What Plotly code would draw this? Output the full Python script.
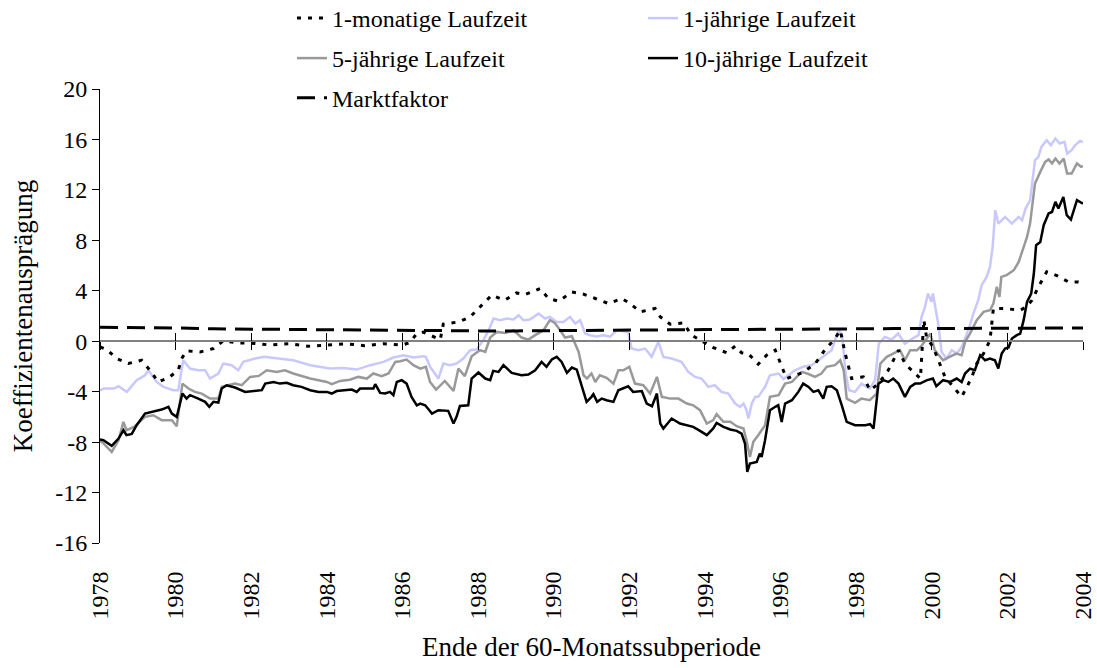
import plotly.graph_objects as go

# ---------------- data ----------------
x_ticks = list(range(1978, 2005, 2))
x_ticktext = [str(v) for v in x_ticks]
y_ticks = list(range(-16, 21, 4))
y_ticktext = [str(v) for v in y_ticks]

# 1-monatige Laufzeit
t_1m = [1978.00, 1978.18, 1978.44, 1978.75, 1979.10, 1979.32, 1979.54, 1979.81, 1980.07, 1980.16,
        1980.29, 1980.65, 1981.00, 1981.26, 1981.66, 1982.10, 1982.50, 1983.00, 1983.50, 1984.00,
        1984.50, 1985.00, 1985.50, 1986.00, 1986.20, 1986.38, 1986.55, 1986.73, 1987.00, 1987.08,
        1987.48, 1987.79, 1988.10, 1988.36, 1988.70, 1989.02, 1989.25, 1989.64, 1989.86, 1990.13,
        1990.48, 1990.79, 1991.10, 1991.45, 1991.80, 1992.02, 1992.29, 1992.68, 1992.82, 1993.08,
        1993.43, 1993.65, 1993.96, 1994.22, 1994.58, 1994.80, 1994.97, 1995.15, 1995.41, 1995.63,
        1995.86, 1996.01, 1996.16, 1996.56, 1996.91, 1997.18, 1997.44, 1997.58, 1997.71, 1997.88,
        1998.19, 1998.37, 1998.59, 1998.85, 1999.12, 1999.30, 1999.70, 1999.79, 1999.86, 2000.04,
        2000.22, 2000.35, 2000.57, 2000.79, 2000.93, 2001.06, 2001.19, 2001.37, 2001.54, 2001.63,
        2001.90, 2002.34, 2002.50, 2002.65, 2002.82, 2003.04, 2003.31, 2003.62, 2003.88, 2004.00]
v_1m = [-0.45, -0.66, -1.37, -1.77, -1.51, -2.30, -3.23, -2.90, -2.30, -1.37,
        -0.77, -0.85, -0.58, 0.02, -0.13, -0.18, -0.30, -0.20, -0.40, -0.30,
        -0.20, -0.35, -0.20, -0.30, -0.10, 0.61, 0.72, 0.48, 0.13, 1.35,
        1.53, 1.93, 2.85, 3.65, 3.25, 3.83, 3.70, 4.18, 3.39, 3.17,
        3.91, 3.73, 3.39, 2.99, 3.39, 2.99, 2.33, 2.60, 1.93, 1.35,
        1.45, 0.48, -0.05, -0.50, -0.92, -0.39, -0.92, -1.00, -1.82, -1.11,
        -0.71, -1.82, -2.96, -2.51, -1.82, -0.66, 0.21, 0.87, -0.98, -2.96,
        -2.83, -3.89, -3.36, -2.30, -0.71, -1.82, -2.96, 1.70, 0.34, -0.50,
        -1.77, -2.83, -3.62, -4.41, -3.62, -2.83, -1.77, -0.98, 0.08, 2.60,
        2.60, 2.46, 2.72, 3.25, 4.31, 5.50, 5.20, 4.70, 4.70, 4.60]

# 1-jährige Laufzeit
t_1y = [1978.00, 1978.10, 1978.36, 1978.49, 1978.71, 1978.97, 1979.19, 1979.28, 1979.50, 1979.68,
        1979.94, 1980.07, 1980.20, 1980.38, 1980.60, 1980.78, 1980.91, 1981.13, 1981.26, 1981.48,
        1981.66, 1981.79, 1982.10, 1982.35, 1982.50, 1982.76, 1983.11, 1983.56, 1984.08, 1984.44,
        1984.79, 1985.15, 1985.50, 1985.76, 1986.03, 1986.29, 1986.55, 1986.62, 1986.73, 1986.95,
        1987.08, 1987.26, 1987.43, 1987.61, 1987.79, 1987.96, 1988.14, 1988.28, 1988.41, 1988.59,
        1988.76, 1988.94, 1989.07, 1989.20, 1989.37, 1989.60, 1989.77, 1989.90, 1990.08, 1990.26,
        1990.43, 1990.57, 1990.70, 1990.83, 1990.96, 1991.14, 1991.31, 1991.49, 1991.67, 1991.97,
        1992.06, 1992.24, 1992.42, 1992.59, 1992.77, 1992.90, 1993.12, 1993.38, 1993.56, 1993.74,
        1993.91, 1994.09, 1994.26, 1994.44, 1994.62, 1994.80, 1994.93, 1995.02, 1995.10, 1995.15,
        1995.24, 1995.33, 1995.41, 1995.59, 1995.72, 1995.95, 1996.08, 1996.21, 1996.38, 1996.60,
        1996.82, 1997.00, 1997.18, 1997.35, 1997.53, 1997.63, 1997.72, 1997.81, 1997.97, 1998.14,
        1998.36, 1998.50, 1998.60, 1998.76, 1998.94, 1999.11, 1999.29, 1999.47, 1999.65, 1999.73,
        1999.82, 1999.90, 1999.99, 2000.03, 2000.17, 2000.26, 2000.39, 2000.53, 2000.66, 2000.79,
        2000.88, 2001.01, 2001.10, 2001.23, 2001.32, 2001.45, 2001.54, 2001.61, 2001.68, 2001.76,
        2001.94, 2002.12, 2002.30, 2002.39, 2002.48, 2002.60, 2002.73, 2002.82, 2002.90, 2003.04,
        2003.15, 2003.27, 2003.38, 2003.51, 2003.58, 2003.70, 2003.79, 2003.92, 2004.00]
v_1y = [-3.90, -3.75, -3.75, -3.57, -4.02, -3.09, -2.70, -2.30, -3.23, -3.62,
        -3.88, -3.88, -1.51, -2.17, -2.30, -2.30, -2.96, -2.56, -1.77, -1.90,
        -2.30, -1.64, -1.37, -1.24, -1.29, -1.37, -1.51, -1.90, -2.17, -2.12,
        -2.25, -1.90, -1.64, -1.29, -1.11, -1.29, -1.19, -1.24, -2.03, -2.96,
        -1.77, -1.90, -1.77, -1.37, -0.71, -0.66, 0.08, 0.87, 1.80, 1.67,
        1.80, 1.72, 2.06, 1.67, 1.72, 2.19, 1.80, 1.93, 1.53, 1.53,
        1.93, 1.40, 1.67, 0.61, 0.48, 0.37, 0.48, 0.37, 0.87, 0.72,
        -0.58, -0.71, -0.58, -1.24, -0.05, -1.24, -1.37, -1.64, -2.43, -2.83,
        -2.96, -3.62, -3.49, -4.02, -4.15, -4.94, -5.20, -4.94, -5.47, -6.13,
        -4.94, -4.41, -4.41, -3.62, -2.70, -2.56, -3.00, -2.70, -2.30, -2.03,
        -1.90, -1.51, -1.11, -0.71, 0.87, 0.48, -2.56, -3.89, -4.02, -3.36,
        -3.75, -3.09, -0.18, 0.34, 0.13, 0.61, -0.20, 0.18, 0.48, 1.93,
        2.72, 3.78, 3.12, 3.78, 1.40, -0.85, -1.37, -0.71, -0.98, -0.45,
        0.21, 1.27, 2.19, 3.25, 4.44, 5.10, 5.89, 7.48, 10.39, 9.33,
        9.86, 9.33, 9.86, 9.60, 10.52, 11.18, 14.35, 14.62, 15.41, 15.94,
        15.54, 16.07, 15.68, 15.81, 14.88, 15.15, 15.54, 15.88, 15.80]

# 5-jährige Laufzeit
t_5y = [1978.00, 1978.09, 1978.31, 1978.49, 1978.62, 1978.70, 1978.90, 1979.19, 1979.41, 1979.63,
        1979.90, 1980.03, 1980.18, 1980.34, 1980.51, 1980.69, 1980.91, 1981.13, 1981.22, 1981.57,
        1981.75, 1981.97, 1982.20, 1982.41, 1982.67, 1982.89, 1983.11, 1983.56, 1984.00, 1984.13,
        1984.35, 1984.61, 1984.83, 1985.06, 1985.23, 1985.45, 1985.63, 1985.81, 1985.94, 1986.11,
        1986.29, 1986.47, 1986.62, 1986.73, 1986.89, 1987.12, 1987.35, 1987.48, 1987.65, 1987.83,
        1988.05, 1988.19, 1988.32, 1988.50, 1988.72, 1988.94, 1989.15, 1989.33, 1989.51, 1989.73,
        1989.90, 1990.03, 1990.17, 1990.30, 1990.48, 1990.66, 1990.79, 1990.88, 1991.00, 1991.10,
        1991.22, 1991.40, 1991.58, 1991.71, 1991.84, 1992.00, 1992.15, 1992.37, 1992.55, 1992.73,
        1992.86, 1993.08, 1993.30, 1993.52, 1993.69, 1993.87, 1994.05, 1994.22, 1994.31, 1994.49,
        1994.67, 1994.84, 1995.02, 1995.10, 1995.19, 1995.28, 1995.41, 1995.59, 1995.72, 1995.95,
        1996.12, 1996.30, 1996.56, 1996.74, 1996.91, 1997.08, 1997.22, 1997.44, 1997.58, 1997.67,
        1997.75, 1997.97, 1998.14, 1998.36, 1998.54, 1998.64, 1998.81, 1998.98, 1999.16, 1999.29,
        1999.43, 1999.61, 1999.74, 1999.87, 1999.96, 2000.08, 2000.30, 2000.47, 2000.65, 2000.79,
        2000.88, 2001.01, 2001.19, 2001.37, 2001.54, 2001.63, 2001.72, 2001.79, 2001.84, 2001.98,
        2002.17, 2002.30, 2002.39, 2002.52, 2002.60, 2002.73, 2002.87, 2003.00, 2003.09, 2003.18,
        2003.27, 2003.38, 2003.49, 2003.58, 2003.70, 2003.84, 2003.95, 2004.00]
v_5y = [-7.90, -8.10, -8.78, -7.85, -6.40, -7.06, -6.80, -6.00, -5.87, -6.26,
        -6.26, -6.74, -3.36, -3.75, -4.02, -4.15, -4.55, -4.55, -3.62, -3.36,
        -3.49, -2.83, -2.75, -2.30, -2.43, -2.30, -2.56, -2.96, -3.23, -3.41,
        -3.15, -3.05, -2.83, -2.96, -2.56, -2.77, -2.56, -1.64, -1.59, -1.45,
        -1.90, -2.17, -2.03, -3.23, -3.83, -3.15, -3.94, -2.17, -2.77, -1.19,
        -0.71, -0.85, 0.29, 0.74, 0.66, 0.87, 0.29, 0.13, 0.48, 0.87,
        1.67, 1.45, 0.87, 0.29, 0.40, -0.85, -2.70, -2.96, -2.56, -3.23,
        -2.70, -2.90, -3.36, -2.30, -2.30, -2.03, -3.36, -3.49, -4.15, -2.83,
        -4.41, -4.55, -4.55, -4.94, -5.08, -5.47, -6.53, -6.26, -5.79, -6.39,
        -6.39, -6.74, -6.92, -7.85, -9.18, -7.98, -7.45, -6.66, -4.41, -4.28,
        -3.36, -3.23, -2.43, -2.60, -2.83, -2.56, -2.03, -1.90, -1.51, -2.30,
        -4.55, -4.89, -4.55, -4.68, -4.15, -1.77, -1.24, -0.98, -0.71, -1.51,
        -0.71, -0.71, -0.32, 0.21, 0.61, -0.71, -1.51, -1.24, -0.98, -1.11,
        -0.05, 0.61, 1.67, 2.33, 2.46, 2.99, 4.31, 3.51, 5.10, 5.24,
        5.63, 6.29, 7.08, 8.27, 9.33, 12.50, 13.43, 14.22, 14.41, 14.09,
        14.49, 14.09, 14.49, 13.30, 13.30, 14.09, 13.83, 13.90]

# 10-jährige Laufzeit
t_10y = [1978.00, 1978.09, 1978.31, 1978.49, 1978.62, 1978.70, 1978.84, 1978.97, 1979.19, 1979.41,
         1979.63, 1979.81, 1979.90, 1980.03, 1980.18, 1980.29, 1980.38, 1980.60, 1980.78, 1980.89,
         1981.00, 1981.13, 1981.22, 1981.35, 1981.57, 1981.84, 1982.10, 1982.28, 1982.37, 1982.59,
         1982.76, 1982.94, 1983.11, 1983.33, 1983.56, 1983.78, 1984.00, 1984.13, 1984.26, 1984.48,
         1984.66, 1984.79, 1984.88, 1985.06, 1985.23, 1985.28, 1985.41, 1985.54, 1985.67, 1985.76,
         1985.85, 1985.98, 1986.11, 1986.24, 1986.38, 1986.47, 1986.60, 1986.71, 1986.78, 1986.95,
         1987.21, 1987.35, 1987.43, 1987.52, 1987.74, 1987.83, 1988.01, 1988.19, 1988.32, 1988.40,
         1988.54, 1988.67, 1988.89, 1989.15, 1989.33, 1989.51, 1989.68, 1989.81, 1989.95, 1990.08,
         1990.21, 1990.35, 1990.48, 1990.61, 1990.74, 1990.87, 1991.00, 1991.05, 1991.15, 1991.27,
         1991.40, 1991.58, 1991.71, 1991.84, 1991.97, 1992.10, 1992.33, 1992.46, 1992.60, 1992.73,
         1992.82, 1992.90, 1993.12, 1993.34, 1993.52, 1993.69, 1993.87, 1994.05, 1994.22, 1994.31,
         1994.49, 1994.67, 1994.84, 1994.97, 1995.06, 1995.12, 1995.19, 1995.37, 1995.45, 1995.50,
         1995.59, 1995.72, 1995.86, 1995.94, 1996.03, 1996.12, 1996.30, 1996.47, 1996.60, 1996.74,
         1996.87, 1997.00, 1997.13, 1997.22, 1997.35, 1997.49, 1997.62, 1997.75, 1997.97, 1998.24,
         1998.37, 1998.46, 1998.59, 1998.72, 1998.85, 1998.98, 1999.12, 1999.29, 1999.43, 1999.56,
         1999.69, 1999.86, 2000.03, 2000.12, 2000.30, 2000.49, 2000.66, 2000.79, 2000.88, 2001.01,
         2001.14, 2001.28, 2001.41, 2001.54, 2001.67, 2001.76, 2001.85, 2001.94, 2002.03, 2002.12,
         2002.25, 2002.34, 2002.43, 2002.52, 2002.63, 2002.70, 2002.76, 2002.87, 2002.96, 2003.09,
         2003.18, 2003.27, 2003.35, 2003.48, 2003.57, 2003.68, 2003.84, 2004.00]
v_10y = [-7.80, -7.85, -8.30, -7.72, -7.06, -7.45, -7.35, -6.66, -5.74, -5.60,
         -5.42, -5.20, -5.74, -6.00, -4.15, -4.55, -4.28, -4.55, -4.81, -5.20,
         -4.81, -4.86, -3.75, -3.49, -3.67, -4.02, -3.94, -3.88, -3.36, -3.23,
         -3.36, -3.30, -3.49, -3.62, -3.89, -4.02, -4.02, -4.15, -3.95, -3.89,
         -3.83, -4.02, -3.75, -3.75, -3.75, -3.41, -4.10, -4.15, -4.02, -4.28,
         -3.23, -3.09, -3.36, -4.41, -5.08, -4.95, -5.08, -5.47, -5.74, -5.47,
         -5.52, -6.53, -6.00, -5.13, -5.08, -2.96, -2.48, -2.96, -3.09, -2.35,
         -2.43, -1.90, -2.51, -2.70, -2.64, -2.30, -1.64, -2.03, -1.45, -1.24,
         -1.64, -2.51, -2.09, -2.25, -3.49, -4.81, -4.41, -4.20, -4.81, -4.55,
         -4.68, -4.81, -3.89, -3.75, -3.57, -4.02, -3.95, -4.94, -5.15, -4.15,
         -6.53, -6.92, -6.13, -6.53, -6.66, -6.79, -7.11, -7.45, -6.92, -6.48,
         -6.79, -7.00, -7.11, -7.32, -8.11, -10.36, -9.70, -9.57, -8.91, -9.18,
         -7.85, -5.47, -5.20, -5.07, -6.40, -4.94, -4.68, -4.02, -3.36, -3.62,
         -4.02, -3.89, -4.55, -3.62, -3.57, -3.89, -5.08, -6.40, -6.66, -6.66,
         -6.58, -6.92, -3.36, -3.09, -3.23, -2.96, -3.36, -4.41, -3.62, -3.36,
         -3.36, -3.10, -2.96, -3.57, -3.09, -3.23, -2.96, -3.23, -2.56, -2.17,
         -2.30, -1.11, -1.51, -1.37, -1.51, -2.17, -0.98, -0.58, -0.50, 0.21,
         0.48, 0.61, 1.67, 3.12, 3.78, 5.37, 7.61, 7.87, 9.20, 10.13,
         10.25, 11.05, 10.52, 11.44, 9.99, 9.65, 11.18, 10.90]

# Marktfaktor
t_mf = list(range(1978, 2005))
v_mf = [1.10, 1.10, 1.05, 0.98, 0.95, 0.93, 0.90, 0.90, 0.88, 0.85,
        0.82, 0.82, 0.85, 0.85, 0.87, 0.90, 0.92, 0.93, 0.93, 0.95,
        0.98, 1.00, 1.00, 1.02, 1.05, 1.05, 1.05]

# ---------------- figure ----------------
FONT = "Liberation Serif"
TICK_SIZE = 24
LEG_SIZE = 24
TITLE_SIZE = 27

fig = go.Figure()
fig.add_trace(go.Scatter(x=t_1y, y=v_1y, mode="lines", name="1-jährige Laufzeit",
                         line=dict(color="#c8c8ff", width=2.5), legend="legend2"))
fig.add_trace(go.Scatter(x=t_5y, y=v_5y, mode="lines", name="5-jährige Laufzeit",
                         line=dict(color="#999999", width=2.5), legend="legend3"))
fig.add_trace(go.Scatter(x=t_10y, y=v_10y, mode="lines", name="10-jährige Laufzeit",
                         line=dict(color="#000000", width=2.5), legend="legend4"))
fig.add_trace(go.Scatter(x=t_1m, y=v_1m, mode="lines", name="1-monatige Laufzeit",
                         line=dict(color="#000000", width=3, dash="4px,7px"), legend="legend"))
fig.add_trace(go.Scatter(x=t_mf, y=v_mf, mode="lines", name="Marktfaktor",
                         line=dict(color="#000000", width=3, dash="18px,9px"), legend="legend5"))
# helper traces so the crossing axes at y=0 are drawn
for ax in ("x2", "x3"):
    fig.add_trace(go.Scatter(x=x_ticks[:1], y=[None], xaxis=ax, mode="lines",
                             showlegend=False, hoverinfo="skip"))

xr = [x_ticks[0], x_ticks[-1]]
yr = [y_ticks[0], y_ticks[-1]]
zero_pos = (0 - yr[0]) / (yr[1] - yr[0])

common_leg = dict(font=dict(family=FONT, size=LEG_SIZE, color="black"),
                  bgcolor="rgba(0,0,0,0)", xanchor="left", yanchor="middle",
                  orientation="v")
col1, col2 = 0.1953, 0.5524
row1, row2, row3 = 1.1553, 1.0672, 0.980

fig.update_layout(
    width=1097, height=668,
    margin=dict(l=100, r=14, t=89, b=125, autoexpand=False),
    paper_bgcolor="white", plot_bgcolor="white",
    font=dict(family=FONT, size=TICK_SIZE, color="black"),
    showlegend=True,
    legend=dict(x=col1, y=row1, **common_leg),
    legend2=dict(x=col2, y=row1, **common_leg),
    legend3=dict(x=col1, y=row2, **common_leg),
    legend4=dict(x=col2, y=row2, **common_leg),
    legend5=dict(x=col1, y=row3, **common_leg),
    xaxis=dict(range=xr, tickmode="array", tickvals=x_ticks, ticktext=x_ticktext,
               tickangle=-90, ticks="outside", ticklen=18, tickcolor="rgba(0,0,0,0)",
               showline=False, showgrid=False, zeroline=False,
               tickfont=dict(family=FONT, size=TICK_SIZE, color="black"),
               title=dict(text="Ende der 60-Monatssubperiode",
                          font=dict(family=FONT, size=TITLE_SIZE, color="black"), standoff=18)),
    xaxis2=dict(range=xr, overlaying="x", anchor="free", position=zero_pos,
                tickmode="array", tickvals=x_ticks, showticklabels=False,
                ticks="outside", ticklen=8, tickwidth=1, tickcolor="black",
                showline=True, linecolor="#808080", linewidth=1.5,
                showgrid=False, zeroline=False),
    xaxis3=dict(range=xr, overlaying="x", anchor="free", position=zero_pos,
                tickmode="array", tickvals=x_ticks, showticklabels=False,
                ticks="inside", ticklen=8, tickwidth=1, tickcolor="black",
                showline=False, showgrid=False, zeroline=False),
    yaxis=dict(range=yr, tickmode="array", tickvals=y_ticks, ticktext=y_ticktext,
               ticks="outside", ticklen=7, tickwidth=1, tickcolor="black",
               showline=True, linecolor="black", linewidth=1,
               showgrid=False, zeroline=False,
               tickfont=dict(family=FONT, size=TICK_SIZE, color="black"),
               title=dict(text="Koeffizientenausprägung",
                          font=dict(family=FONT, size=TITLE_SIZE, color="black"), standoff=14)),
)

# remove the page's default 8px body margin so the figure fills the window exactly
fig.write_html("out.html", config={"displayModeBar": False},
               post_script="document.body.style.margin='0px';")
